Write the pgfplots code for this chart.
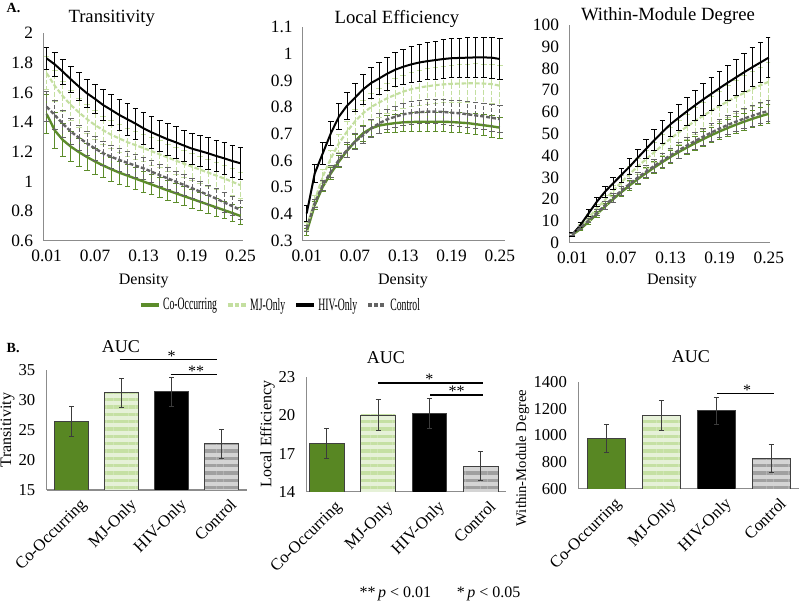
\documentclass[border=0pt]{standalone}
\usepackage{fontspec}
\setmainfont{Liberation Serif}
\usepackage{graphicx}
\usepackage{pgfplots}
\pgfplotsset{compat=1.18}
\usepackage{pgfplotstable}
\usetikzlibrary{patterns.meta}

\definecolor{cogreen}{RGB}{92,140,42}
\definecolor{cobar}{RGB}{88,135,35}
\definecolor{mjgreen}{RGB}{196,223,160}
\definecolor{ctgray}{RGB}{100,100,100}
\definecolor{axgray}{RGB}{140,140,140}
\definecolor{mjlight}{RGB}{230,241,216}
\definecolor{mjmid}{RGB}{197,224,163}
\definecolor{ctlight}{RGB}{212,212,212}
\definecolor{ctmid}{RGB}{160,160,160}
\definecolor{bardraw}{RGB}{64,64,64}
\definecolor{errgray}{RGB}{60,60,60}

\pgfplotstableread{
x co coe mj mje hiv hive ct cte
0.01 1.455 0.13 1.73 0.11 1.829 0.072 1.504 0.10
0.02 1.345 0.12 1.645 0.105 1.789 0.078 1.448 0.095
0.03 1.28 0.11 1.575 0.10 1.74 0.084 1.39 0.09
0.04 1.235 0.10 1.515 0.10 1.688 0.09 1.336 0.088
0.05 1.198 0.095 1.465 0.098 1.639 0.094 1.295 0.085
0.06 1.165 0.09 1.42 0.097 1.594 0.097 1.257 0.083
0.07 1.135 0.086 1.38 0.096 1.556 0.1 1.222 0.081
0.08 1.108 0.083 1.345 0.095 1.515 0.102 1.19 0.08
0.09 1.083 0.08 1.315 0.094 1.482 0.103 1.167 0.079
0.10 1.06 0.077 1.29 0.094 1.448 0.104 1.145 0.078
0.11 1.04 0.075 1.265 0.093 1.419 0.105 1.126 0.077
0.12 1.02 0.073 1.245 0.093 1.39 0.105 1.107 0.076
0.13 1.0 0.071 1.225 0.092 1.358 0.105 1.089 0.075
0.14 0.98 0.069 1.204 0.092 1.331 0.105 1.066 0.074
0.15 0.96 0.067 1.183 0.091 1.307 0.105 1.043 0.073
0.16 0.94 0.066 1.162 0.091 1.284 0.105 1.021 0.072
0.17 0.921 0.064 1.141 0.09 1.264 0.105 0.999 0.071
0.18 0.902 0.063 1.12 0.09 1.242 0.105 0.977 0.07
0.19 0.883 0.062 1.10 0.09 1.221 0.105 0.955 0.069
0.20 0.864 0.061 1.08 0.09 1.206 0.105 0.932 0.068
0.21 0.845 0.06 1.06 0.09 1.19 0.106 0.91 0.067
0.22 0.826 0.059 1.04 0.09 1.172 0.106 0.885 0.066
0.23 0.807 0.058 1.02 0.09 1.156 0.106 0.859 0.066
0.24 0.788 0.057 0.998 0.09 1.138 0.107 0.834 0.065
0.25 0.768 0.056 0.975 0.09 1.123 0.107 0.809 0.065
}\Ttab

\pgfplotstableread{
x co coe mj mje hiv hive ct cte
0.01 0.333 0.012 0.352 0.015 0.402 0.03 0.346 0.013
0.02 0.433 0.015 0.45 0.02 0.552 0.035 0.44 0.016
0.03 0.502 0.018 0.54 0.025 0.627 0.04 0.508 0.019
0.04 0.552 0.021 0.608 0.03 0.702 0.045 0.558 0.022
0.05 0.596 0.023 0.664 0.035 0.764 0.048 0.602 0.025
0.06 0.636 0.025 0.708 0.04 0.805 0.05 0.639 0.028
0.07 0.671 0.027 0.746 0.044 0.835 0.053 0.67 0.03
0.08 0.702 0.029 0.777 0.048 0.866 0.055 0.695 0.032
0.09 0.72 0.03 0.80 0.051 0.89 0.058 0.72 0.034
0.10 0.731 0.031 0.817 0.054 0.907 0.06 0.739 0.036
0.11 0.736 0.032 0.833 0.057 0.925 0.062 0.754 0.038
0.12 0.74 0.033 0.846 0.06 0.94 0.064 0.764 0.04
0.13 0.743 0.034 0.858 0.062 0.951 0.066 0.773 0.041
0.14 0.744 0.035 0.867 0.064 0.96 0.068 0.778 0.042
0.15 0.745 0.035 0.873 0.066 0.967 0.069 0.781 0.043
0.16 0.745 0.036 0.878 0.067 0.972 0.07 0.783 0.044
0.17 0.745 0.036 0.882 0.068 0.976 0.071 0.783 0.045
0.18 0.745 0.037 0.885 0.069 0.98 0.072 0.782 0.046
0.19 0.744 0.037 0.887 0.07 0.983 0.073 0.779 0.047
0.20 0.742 0.038 0.888 0.071 0.984 0.074 0.777 0.048
0.21 0.74 0.038 0.889 0.072 0.985 0.075 0.773 0.048
0.22 0.736 0.039 0.889 0.073 0.986 0.076 0.769 0.049
0.23 0.732 0.039 0.888 0.073 0.986 0.076 0.765 0.049
0.24 0.728 0.04 0.886 0.074 0.985 0.077 0.76 0.05
0.25 0.723 0.04 0.88 0.075 0.98 0.077 0.755 0.05
}\Ltab

\pgfplotstableread{
x co coe mj mje hiv hive ct cte
0.01 3.6 0.5 3.6 0.6 3.7 0.8 3.8 0.5
0.02 6.3 0.8 7.3 1.0 8.1 1.2 6.8 0.8
0.03 9.6 1.0 11.5 1.4 13.5 1.6 10.2 1.1
0.04 13.1 1.3 15.7 1.8 18.8 2.0 13.7 1.4
0.05 16.6 1.5 19.7 2.2 23.4 2.4 17.2 1.7
0.06 20.0 1.7 23.8 2.6 27.3 2.8 20.6 1.9
0.07 23.2 1.9 27.8 3.0 31.1 3.2 23.9 2.1
0.08 26.3 2.1 31.5 3.4 34.9 3.6 27.0 2.3
0.09 29.2 2.3 35.0 3.8 39.0 4.0 29.9 2.5
0.10 31.9 2.5 38.3 4.2 43.0 4.4 32.6 2.7
0.11 34.5 2.6 41.5 4.5 47.0 4.8 35.2 2.9
0.12 37.0 2.8 44.7 4.8 50.8 5.2 37.7 3.1
0.13 39.4 2.9 47.8 5.1 54.4 5.6 40.1 3.3
0.14 41.6 3.0 50.6 5.4 57.4 6.0 42.4 3.5
0.15 43.7 3.2 53.3 5.7 60.3 6.4 44.6 3.6
0.16 45.7 3.3 55.9 6.0 63.1 6.8 46.7 3.8
0.17 47.6 3.4 58.3 6.3 65.8 7.2 48.7 3.9
0.18 49.4 3.5 60.6 6.6 68.4 7.5 50.6 4.1
0.19 51.1 3.6 62.8 6.9 71.0 7.8 52.4 4.2
0.20 52.7 3.7 64.9 7.2 73.5 8.1 54.1 4.4
0.21 54.2 3.8 66.9 7.5 75.9 8.4 55.6 4.5
0.22 55.6 3.9 68.8 7.8 78.3 8.7 57.0 4.6
0.23 56.9 4.0 70.6 8.1 80.6 8.9 58.3 4.7
0.24 58.1 4.1 72.3 8.4 82.8 9.1 59.5 4.8
0.25 59.2 4.2 73.9 8.7 85.0 9.3 60.5 4.9
}\Wtab

\pgfplotsset{
  base/.style={scale only axis, anchor=south west, axis lines=left,
    axis line style={draw=axgray, line width=0.75pt, -},
    major tick length=0pt, tick style={draw=none},
    /pgf/number format/assume math mode=true,
    /pgf/number format/1000 sep={}},
  linepanel/.style={base, no markers, xmin=0.0055, xmax=0.253,
    xtick={0.01,0.07,0.13,0.19,0.25},
    xticklabels={0.01,0.07,0.13,0.19,0.25},
    tick label style={font=\fontsize{13}{15}\selectfont},
    yticklabel style={xshift=-4pt}, xticklabel style={yshift=-3.5pt}},
  barpanel/.style={base, clip mode=individual, xmin=-0.5, xmax=3.5,
    xtick={0,1,2,3}, xticklabels={Co-Occurring,MJ-Only,HIV-Only,Control},
    tick label style={font=\fontsize{12.5}{14}\selectfont},
    yticklabel style={xshift=-5pt},
    xticklabel style={rotate=45, anchor=north east, xshift=3.5pt, yshift=-4.5pt}},
  coline/.style={color=cogreen, line width=1.8pt},
  mjline/.style={color=mjgreen, line width=1.6pt, dash pattern=on 3.5pt off 1.5pt},
  hivline/.style={color=black, line width=1.5pt},
  ctline/.style={color=ctgray, line width=1.8pt, dash pattern=on 3pt off 1.5pt},
  eb/.style={error bars/.cd, y dir=both, y explicit,
    error bar style={line width=0.6pt},
    error mark=-,
    error mark options={rotate=90, solid, line width=0.6pt, mark size=2.1pt}},
  barerr/.style={error bars/.cd, y dir=both, y explicit,
    error bar style={line width=0.6pt, draw=errgray, solid},
    error mark=-,
    error mark options={rotate=90, line width=0.6pt, mark size=1.9pt, draw=errgray}},
  cobarst/.style={ybar, bar shift=0pt, fill=cobar, draw=bardraw, line width=0.6pt},
  mjbarst/.style={ybar, bar shift=0pt, fill=mjlight, draw=bardraw, line width=0.6pt,
    postaction={pattern={Lines[angle=0,distance=5.5pt,line width=2.6pt]}, pattern color=mjmid}},
  hivbarst/.style={ybar, bar shift=0pt, fill=black, draw=bardraw, line width=0.6pt},
  ctbarst/.style={ybar, bar shift=0pt, fill=ctlight, draw=bardraw, line width=0.6pt,
    postaction={pattern={Lines[angle=0,distance=5.5pt,line width=2.6pt]}, pattern color=ctmid}},
}

\begin{document}
\begin{tikzpicture}
\useasboundingbox (0,0) rectangle (600pt,-453.75pt);

% ---------- Panel A: Transitivity ----------
\begin{axis}[linepanel, at={(32.25pt,-180.75pt)}, width=150pt, height=156pt,
  ymin=0.6, ymax=2, ytick={0.6,0.8,1,1.2,1.4,1.6,1.8,2},
  yticklabels={0.6,0.8,1,1.2,1.4,1.6,1.8,2}]
\addplot[coline, eb] table[x=x, y=co, y error=coe] {\Ttab};
\addplot[mjline, eb] table[x=x, y=mj, y error=mje] {\Ttab};
\addplot[hivline, eb] table[x=x, y=hiv, y error=hive] {\Ttab};
\addplot[ctline, eb] table[x=x, y=ct, y error=cte] {\Ttab};
\end{axis}

% ---------- Panel A: Local Efficiency ----------
\begin{axis}[linepanel, at={(227pt,-180.5pt)}, width=151.5pt, height=160.3pt,
  xmin=0.005, xmax=0.256,
  ymin=0.3, ymax=1.1, ytick={0.3,0.4,0.5,0.6,0.7,0.8,0.9,1,1.1},
  yticklabels={0.3,0.4,0.5,0.6,0.7,0.8,0.9,1,1.1},
  legend style={at={(-0.107,-0.301)}, anchor=center, draw=none, fill=none,
    legend columns=4, font=\fontsize{13}{14}\selectfont, inner sep=0pt,
    /tikz/every even column/.append style={column sep=5pt}},
  legend image code/.code={\draw[#1, line width=2.3pt] (0pt,0pt) -- (13.5pt,0pt);}]
\addplot[coline, eb] table[x=x, y=co, y error=coe] {\Ltab};
\addlegendentry{\scalebox{0.56}[1]{Co-Occurring}}
\addplot[mjline, eb] table[x=x, y=mj, y error=mje] {\Ltab};
\addlegendentry{\scalebox{0.56}[1]{MJ-Only}}
\addplot[hivline, eb] table[x=x, y=hiv, y error=hive] {\Ltab};
\addlegendentry{\scalebox{0.56}[1]{HIV-Only}}
\addplot[ctline, eb] table[x=x, y=ct, y error=cte] {\Ltab};
\addlegendentry{\scalebox{0.56}[1]{Control}}
\end{axis}

% ---------- Panel A: Within-Module Degree ----------
\begin{axis}[linepanel, at={(426.75pt,-182pt)}, width=150.75pt, height=163.3pt,
  xmin=0.006, xmax=0.2515,
  ymin=0, ymax=100, ytick={0,10,...,100}]
\addplot[coline, eb] table[x=x, y=co, y error=coe] {\Wtab};
\addplot[mjline, eb] table[x=x, y=mj, y error=mje] {\Wtab};
\addplot[hivline, eb] table[x=x, y=hiv, y error=hive] {\Wtab};
\addplot[ctline, eb] table[x=x, y=ct, y error=cte] {\Wtab};
\end{axis}

% ---------- Panel B: Transitivity AUC ----------
\begin{axis}[barpanel, at={(35pt,-367.5pt)}, width=150pt, height=90pt,
  ymin=15, ymax=35, ytick={15,20,25,30,35}]
\addplot[cobarst, bar width=0.68, barerr] coordinates {(0,26.4) +- (0,2.5)};
\addplot[mjbarst, bar width=0.68, barerr] coordinates {(1,31.2) +- (0,2.45)};
\addplot[hivbarst, bar width=0.68, barerr] coordinates {(2,31.4) +- (0,2.4)};
\addplot[ctbarst, bar width=0.68, barerr] coordinates {(3,22.7) +- (0,2.35)};
\draw[line width=0.8pt] (axis cs:0.96,36.78) -- (axis cs:2.9,36.78);
\draw[line width=0.8pt] (axis cs:1.98,34.28) -- (axis cs:2.9,34.28);
\node[anchor=base, inner sep=0pt, font=\fontsize{12}{14}\selectfont, yshift=-1.3pt] at (axis cs:2.0,36.78) {*};
\node[anchor=base, inner sep=0pt, font=\fontsize{12}{14}\selectfont, yshift=-1.3pt] at (axis cs:2.49,34.28) {**};
\end{axis}

% ---------- Panel B: Local Efficiency AUC ----------
\begin{axis}[barpanel, at={(230pt,-369pt)}, width=149.5pt, height=86.25pt,
  xmin=-0.39, xmax=3.49,
  ymin=14, ymax=23, ytick={14,17,20,23}]
\addplot[cobarst, bar width=0.67, barerr] coordinates {(0,17.8) +- (0,1.18)};
\addplot[mjbarst, bar width=0.67, barerr] coordinates {(1,20.03) +- (0,1.22)};
\addplot[hivbarst, bar width=0.67, barerr] coordinates {(2,20.17) +- (0,1.18)};
\addplot[ctbarst, bar width=0.67, barerr] coordinates {(3,16.02) +- (0,1.14)};
\draw[line width=0.8pt] (axis cs:1.0,22.53) -- (axis cs:3.04,22.53);
\draw[line width=0.8pt] (axis cs:2.02,21.59) -- (axis cs:3.04,21.59);
\node[anchor=base, inner sep=0pt, font=\fontsize{12}{14}\selectfont, yshift=-1.3pt] at (axis cs:2.0,22.53) {*};
\node[anchor=base, inner sep=0pt, font=\fontsize{12}{14}\selectfont, yshift=-1.3pt] at (axis cs:2.53,21.59) {**};
\end{axis}

% ---------- Panel B: Within-Module Degree AUC ----------
\begin{axis}[barpanel, at={(433.7pt,-366.75pt)}, width=165.75pt, height=80.25pt,
  xmin=-0.51, xmax=3.51,
  ymin=600, ymax=1400, ytick={600,800,1000,1200,1400}]
\addplot[cobarst, bar width=0.70, barerr] coordinates {(0,978) +- (0,108)};
\addplot[mjbarst, bar width=0.70, barerr] coordinates {(1,1147) +- (0,112)};
\addplot[hivbarst, bar width=0.70, barerr] coordinates {(2,1184) +- (0,100)};
\addplot[ctbarst, bar width=0.70, barerr] coordinates {(3,829) +- (0,104)};
\draw[line width=0.8pt] (axis cs:2.01,1313) -- (axis cs:3.05,1313);
\node[anchor=base, inner sep=0pt, font=\fontsize{12}{14}\selectfont, yshift=-1.3pt] at (axis cs:2.56,1313) {*};
\end{axis}

% ---------- Titles and labels ----------
\node[anchor=base west, font=\bfseries\fontsize{10.5}{12}\selectfont] at (1.5pt,-9.5pt) {A.};
\node[anchor=base west, font=\bfseries\fontsize{10.5}{12}\selectfont] at (1.5pt,-264.75pt) {B.};
\node[anchor=base, font=\fontsize{14}{16}\selectfont] at (83.8pt,-16.9pt) {Transitivity};
\node[anchor=base, font=\fontsize{14}{16}\selectfont] at (297.75pt,-18pt) {Local Efficiency};
\node[anchor=base, font=\fontsize{14}{16}\selectfont] at (501pt,-15.4pt) {Within-Module Degree};
\node[anchor=base, font=\fontsize{12}{14}\selectfont] at (107.8pt,-213.75pt) {Density};
\node[anchor=base, font=\fontsize{12}{14}\selectfont] at (302.25pt,-213.75pt) {Density};
\node[anchor=base, font=\fontsize{12}{14}\selectfont] at (504pt,-213.75pt) {Density};
\node[anchor=base, font=\fontsize{13.5}{15}\selectfont] at (90.6pt,-264.75pt) {AUC};
\node[anchor=base, font=\fontsize{13.5}{15}\selectfont] at (289.35pt,-272.5pt) {AUC};
\node[anchor=base, font=\fontsize{13.5}{15}\selectfont] at (518.1pt,-272pt) {AUC};
\node[rotate=90, font=\fontsize{12}{14}\selectfont] at (5.6pt,-322.5pt) {Transitivity};
\node[rotate=90, font=\fontsize{12}{14}\selectfont] at (200.6pt,-325.5pt) {Local Efficiency};
\node[rotate=90, font=\fontsize{11}{13}\selectfont] at (391.9pt,-343.5pt) {Within-Module Degree};
\node[anchor=base, font=\fontsize{12}{14}\selectfont] at (330pt,-448.5pt) {**\,\textit{p} < 0.01\hspace{1.6em}*\,\textit{p} < 0.05};
\end{tikzpicture}
\end{document}
